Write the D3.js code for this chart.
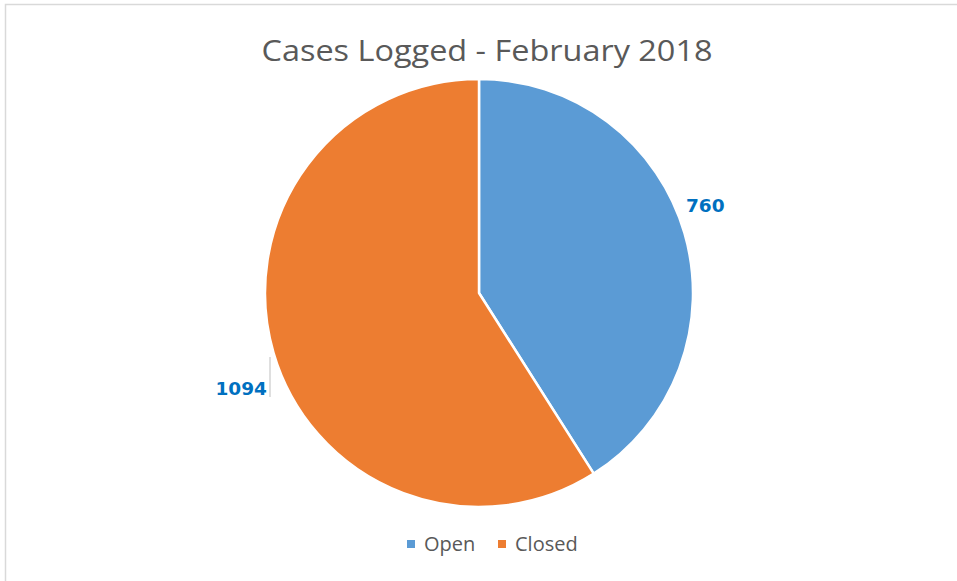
<!DOCTYPE html>
<html><head><meta charset="utf-8">
<script src="https://cdn.jsdelivr.net/npm/d3@7"></script>
<style>body{margin:0;background:#fff}svg{display:block}</style>
</head><body>
<script>
const categories = ["Open", "Closed"];
const values = [760, 1094];
const colors = ["#5B9BD5", "#ED7D31"];
const title = "Cases Logged - February 2018";

const W = 957, H = 581;
const svg = d3.select("body").append("svg").attr("width", W).attr("height", H);
svg.append("rect").attr("x", 5.5).attr("y", 4.5).attr("width", W + 10).attr("height", H + 10)
  .attr("fill", "#fff").attr("stroke", "#d9d9d9").attr("stroke-width", 1.5);

const font = "'Open Sans', sans-serif";
svg.append("text").attr("x", 487).attr("y", 61).attr("text-anchor", "middle")
  .attr("font-family", font).attr("font-size", 30).attr("fill", "#595959")
  .attr("textLength", 451).attr("lengthAdjust", "spacingAndGlyphs").text(title);

const cx = 479, cy = 293, r = 214;
const pie = d3.pie().sort(null).value(d => d)(values);
const arc = d3.arc().innerRadius(0).outerRadius(r);
const g = svg.append("g").attr("transform", `translate(${cx},${cy})`);
g.selectAll("path").data(pie).join("path")
  .attr("d", arc).attr("fill", (d, i) => colors[i])
  .attr("stroke", "#fff").attr("stroke-width", 2.5).attr("stroke-linejoin", "round");

// data labels (positions as in reference)
const lblPos = [[686, 212, "start"], [267, 395, "end"]];
pie.forEach((d, i) => {
  const [x, y, a] = lblPos[i];
  svg.append("text").attr("x", x).attr("y", y).attr("text-anchor", a)
    .attr("font-family", "'DejaVu Sans', sans-serif").attr("font-weight", "bold").attr("font-size", 18.5)
    .attr("fill", "#0070C0").text(d.data);
});
// leader line
svg.append("line").attr("x1", 270).attr("x2", 270).attr("y1", 357).attr("y2", 397)
  .attr("stroke", "#bfbfbf").attr("stroke-width", 1);

// legend
const legX = [407, 498];
const leg = svg.append("g");
categories.forEach((c, i) => {
  leg.append("rect").attr("x", legX[i]).attr("y", 540).attr("width", 8).attr("height", 8).attr("fill", colors[i]);
  leg.append("text").attr("x", legX[i] + 17).attr("y", 551).attr("font-family", font)
    .attr("font-size", 20).attr("fill", "#595959").text(c);
});
</script>
</body></html>
